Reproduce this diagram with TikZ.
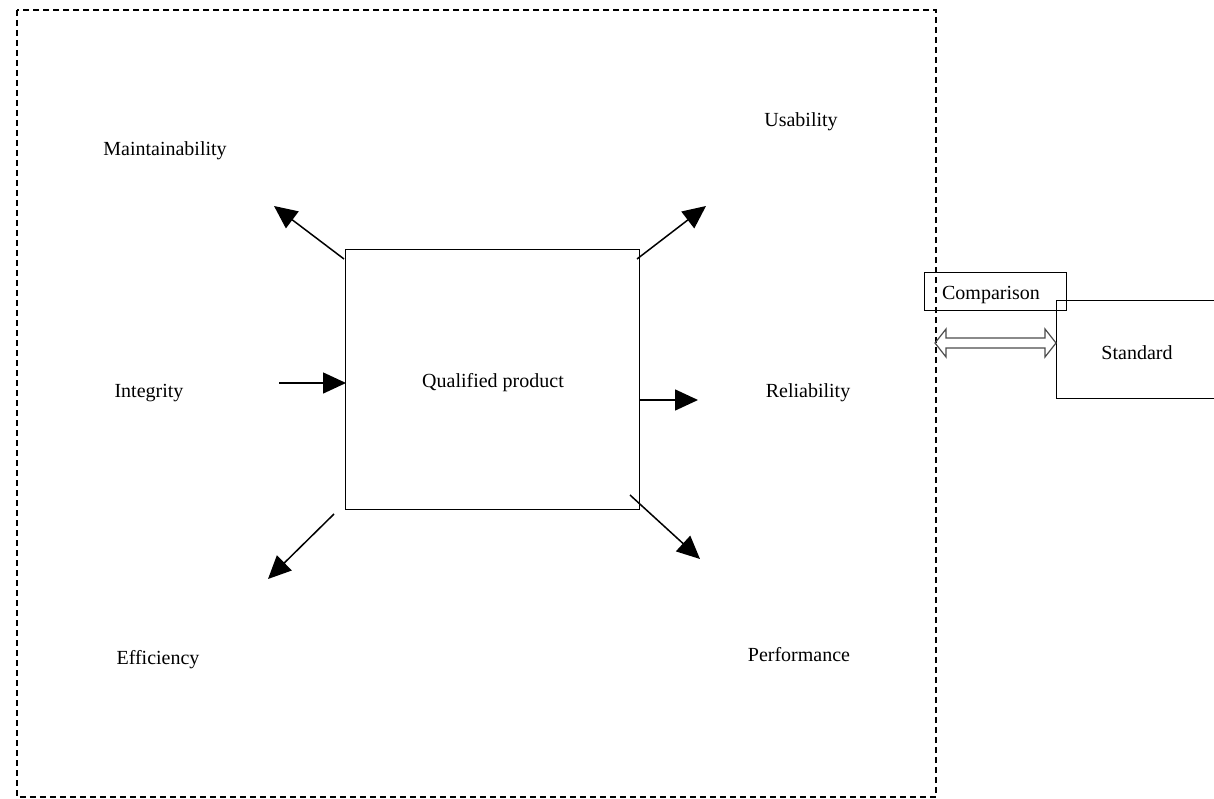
\documentclass[tikz,border=0pt]{standalone}
\usepackage{fontspec}
\setmainfont{Liberation Serif}
\usetikzlibrary{arrows.meta}
\begin{document}
\begin{tikzpicture}[x=1pt,y=-1pt,
  lbl/.style={font=\fontsize{20}{24}\selectfont, inner sep=0pt, anchor=center},
  boxed/.style={draw, line width=1pt, inner sep=0pt},
  arr/.style={line width=1.5pt, -{Triangle[length=23pt,width=21pt]}},
  dashbox/.style={draw, line width=1.2pt, dash pattern=on 6pt off 4pt}]
\useasboundingbox (0,0) rectangle (1214,799);
\fill[white] (0,0) rectangle (1214,799);
% dashed frame
\draw[dashbox] (17,10) rectangle (936,797);
% central box
\node[boxed, minimum width=294pt, minimum height=259pt] (qp) at (492,379.5) {};
\node[lbl] (qpt) at (493,383) {Qualified product};
% labels
\node[lbl] (maint) at (165,151) {Maintainability};
\node[lbl] (usab) at (801,122) {Usability};
\node[lbl] (integ) at (149,393) {Integrity};
\node[lbl] (relia) at (808,393) {Reliability};
\node[lbl] (effic) at (158,660) {Efficiency};
\node[lbl] (perf) at (799,655) {Performance};
% arrow end points
\coordinate (m0) at (344,259); \coordinate (m1) at (274,206);
\coordinate (u0) at (637,259); \coordinate (u1) at (706,206);
\coordinate (i0) at (279,383); \coordinate (i1) at (346,383);
\coordinate (r0) at (639,400); \coordinate (r1) at (698,400);
\coordinate (e0) at (334,514); \coordinate (e1) at (268,579);
\coordinate (p0) at (630,495); \coordinate (p1) at (700,559);
\draw[arr] (m0) -- (m1);
\draw[arr] (u0) -- (u1);
\draw[arr] (i0) -- (i1);
\draw[arr] (r0) -- (r1);
\draw[arr] (e0) -- (e1);
\draw[arr] (p0) -- (p1);
% standard box (cut by the right edge)
\draw[line width=1pt] (1230,301) -- (1056,301) -- (1056,398) -- (1230,398);
\node[lbl] (std) at (1137,353) {Standard};
% comparison box
\node[boxed, minimum width=142pt, minimum height=37pt] (cmp) at (995,291.5) {};
\node[lbl] (cmpt) at (991,295) {Comparison};
% hollow double arrow
\coordinate (dl) at (935,343); \coordinate (dr) at (1056,343);
\draw[line width=1.2pt, draw=black!70, line join=miter]
  (dl) -- ++(11,-14) -- ++(0,9) -- ++(99,0) -- ++(0,-9) -- (dr)
  -- ++(-11,14) -- ++(0,-9) -- ++(-99,0) -- ++(0,9) -- cycle;
\end{tikzpicture}
\end{document}
